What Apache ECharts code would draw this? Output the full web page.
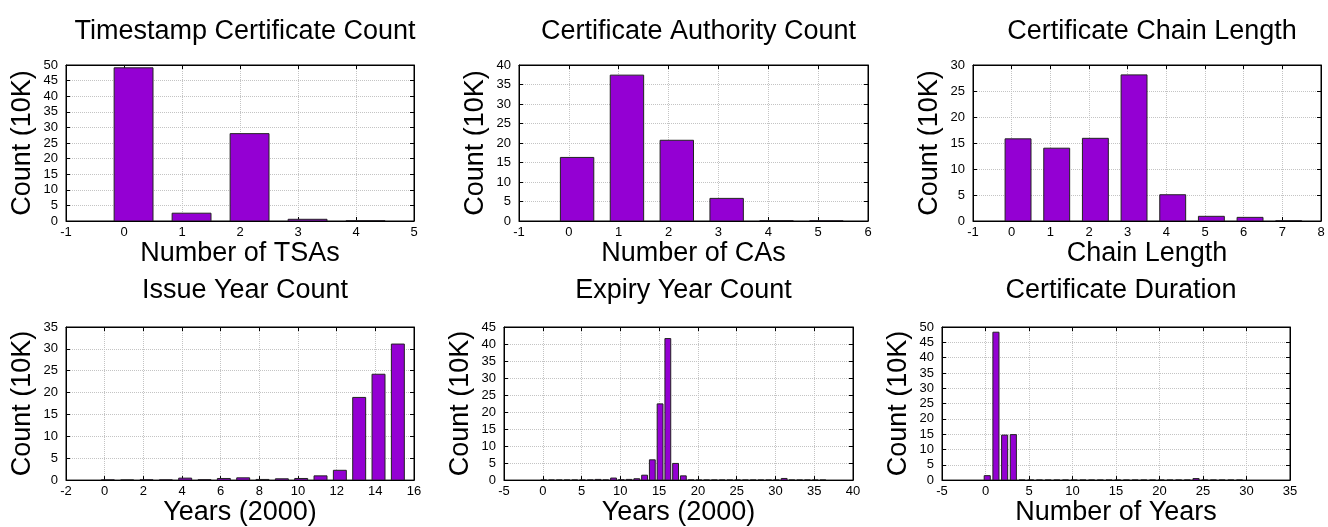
<!DOCTYPE html>
<html>
<head>
<meta charset="utf-8">
<script src="https://cdn.jsdelivr.net/npm/echarts@6/dist/echarts.min.js"></script>
<style>
html,body{margin:0;padding:0;background:#fff;}
#chart{width:1328px;height:527px;}
</style>
</head>
<body>
<div id="chart"></div>
<script>
// ---- Data ----
const titles = ["Timestamp Certificate Count", "Certificate Authority Count", "Certificate Chain Length",
                "Issue Year Count", "Expiry Year Count", "Certificate Duration"];
const xNames = ["Number of TSAs", "Number of CAs", "Chain Length", "Years (2000)", "Years (2000)", "Number of Years"];
const yName = "Count (10K)";

const tsaX = [0, 1, 2, 3, 4];
const tsaCount = [49.1, 2.5, 28.0, 0.55, 0.1];

const caX = [0, 1, 2, 3, 4, 5];
const caCount = [16.3, 37.4, 20.7, 5.8, 0.08, 0.05];

const chainX = [0, 1, 2, 3, 4, 5, 6, 7];
const chainCount = [15.8, 14.0, 15.9, 28.1, 5.05, 0.9, 0.7, 0.05];

const issueX = [0, 1, 2, 3, 4, 5, 6, 7, 8, 9, 10, 11, 12, 13, 14, 15];
const issueCount = [0.05, 0.03, 0.08, 0.05, 0.45, 0.1, 0.37, 0.52, 0.15, 0.3, 0.37, 0.97, 2.24, 18.9, 24.2, 31.1];

const expiryX = [0, 1, 2, 3, 4, 5, 6, 7, 8, 9, 10, 11, 12, 13, 14, 15, 16, 17, 18, 19,
                 20, 21, 22, 23, 24, 25, 26, 27, 28, 29, 30, 31, 32, 33, 34, 35, 36];
const expiryCount = [0.03, 0.03, 0.03, 0.03, 0.03, 0.03, 0.05, 0.2, 0.05, 0.6, 0.1, 0.2, 0.4, 1.44, 5.96, 22.4, 41.6, 4.9, 1.25, 0.05,
                     0.03, 0.03, 0.03, 0.03, 0.03, 0.03, 0.03, 0.03, 0.03, 0.03, 0.03, 0.48, 0.03, 0.03, 0.03, 0.03, 0.03];

const durationX = [0, 1, 2, 3, 4, 5, 6, 7, 8, 9, 10, 11, 12, 13, 14, 15, 16, 17, 18, 19,
                   20, 21, 22, 23, 24, 25, 26, 27, 28, 29];
const durationCount = [1.45, 48.3, 14.7, 14.85, 0.03, 0.03, 0.03, 0.03, 0.03, 0.03, 0.03, 0.03, 0.03, 0.03, 0.03,
                       0.03, 0.03, 0.03, 0.03, 0.03, 0.03, 0.03, 0.03, 0.03, 0.5, 0.03, 0.03, 0.03, 0.03, 0.03];

// axis ranges
const xMin = [-1, -1, -1, -2, -5, -5];
const xMax = [5, 6, 8, 16, 40, 35];
const xInterval = [1, 1, 1, 2, 5, 5];
const yMax = [50, 40, 30, 35, 45, 50];

const seriesX = [tsaX, caX, chainX, issueX, expiryX, durationX];
const seriesY = [tsaCount, caCount, chainCount, issueCount, expiryCount, durationCount];

// ---- Layout / style ----
const grids = [
  {left: 66,  top: 65,  width: 348, height: 156},
  {left: 519, top: 65,  width: 349, height: 156},
  {left: 973, top: 65,  width: 348, height: 156},
  {left: 66,  top: 327, width: 348, height: 156},
  {left: 504, top: 327, width: 349, height: 156},
  {left: 942, top: 327, width: 348, height: 156}
];
const barLo = [-0.17, -0.17, -0.17, -0.17, -0.25, -0.15];
const barHi = [0.5, 0.5, 0.5, 0.5, 0.5, 0.55];

const FONT = "'Liberation Sans', Arial, Helvetica, sans-serif";
const BIG = 27;
const SMALL = 13;

const option = {
  animation: false,
  backgroundColor: '#fff',
  textStyle: {fontFamily: FONT},
  title: [], grid: [], xAxis: [], yAxis: [], series: []
};

grids.forEach((g, i) => {
  option.grid.push({left: g.left, top: g.top, width: g.width, height: g.height,
    show: true, borderColor: '#000', borderWidth: 1, backgroundColor: 'transparent'});
  option.title.push({
    text: titles[i], left: g.left + g.width / 2, textAlign: 'center',
    top: i < 3 ? 13 : 272,
    textStyle: {fontFamily: FONT, fontSize: BIG, fontWeight: 'normal', color: '#000'}
  });
  const common = {
    type: 'value', gridIndex: i, min: xMin[i], max: xMax[i], interval: xInterval[i],
    axisLine: {show: true, onZero: false, lineStyle: {color: '#000', width: 1}},
    axisTick: {show: true, inside: true, length: 4, lineStyle: {color: '#000'}}
  };
  option.xAxis.push(Object.assign({}, common, {
    position: 'bottom',
    name: xNames[i], nameLocation: 'middle', nameGap: i < 3 ? 16 : 13,
    nameTextStyle: {fontFamily: FONT, fontSize: BIG, color: '#000'},
    axisLabel: {show: true, margin: 5, fontFamily: FONT, fontSize: SMALL, color: '#000',
                showMinLabel: true, showMaxLabel: true},
    splitLine: {show: true, lineStyle: {color: '#c4c4c4', type: 'dotted', width: 1}}
  }));
  option.xAxis.push(Object.assign({}, common, {
    position: 'top', axisLabel: {show: false}, splitLine: {show: false}
  }));
  const ycommon = {
    type: 'value', gridIndex: i, min: 0, max: yMax[i], interval: 5,
    axisLine: {show: true, onZero: false, lineStyle: {color: '#000', width: 1}},
    axisTick: {show: true, inside: true, length: 4, lineStyle: {color: '#000'}}
  };
  option.yAxis.push(Object.assign({}, ycommon, {
    position: 'left',
    name: yName, nameLocation: 'middle', nameGap: 30, nameRotate: 90,
    nameTextStyle: {fontFamily: FONT, fontSize: BIG, color: '#000'},
    axisLabel: {show: true, margin: 8, fontFamily: FONT, fontSize: SMALL, color: '#000',
                showMinLabel: true, showMaxLabel: true},
    splitLine: {show: true, lineStyle: {color: '#c4c4c4', type: 'dotted', width: 1}}
  }));
  option.yAxis.push(Object.assign({}, ycommon, {
    position: 'right', axisLabel: {show: false}, splitLine: {show: false}
  }));

  const lo = barLo[i], hi = barHi[i];
  option.series.push({
    type: 'custom',
    xAxisIndex: 2 * i, yAxisIndex: 2 * i,
    data: seriesX[i].map((x, k) => [x, seriesY[i][k]]),
    clip: true,
    renderItem: function (params, api) {
      const x = api.value(0), y = api.value(1);
      const p0 = api.coord([x + lo, y]);
      const p1 = api.coord([x + hi, 0]);
      return {
        type: 'rect',
        shape: {x: p0[0], y: p0[1], width: p1[0] - p0[0], height: p1[1] - p0[1]},
        style: {fill: '#9400D3', stroke: '#222', lineWidth: 1}
      };
    }
  });
});

const chart = echarts.init(document.getElementById('chart'), null, {renderer: 'canvas'});
chart.setOption(option);
</script>
</body>
</html>
